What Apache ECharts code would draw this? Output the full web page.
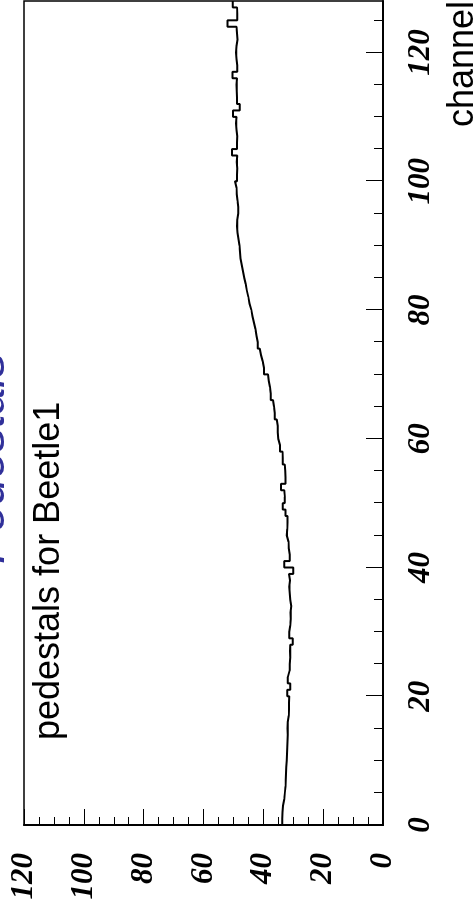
<!DOCTYPE html>
<html>
<head>
<meta charset="utf-8">
<title>Pedestals</title>
<script src="https://cdn.jsdelivr.net/npm/echarts@6/dist/echarts.min.js"></script>
<style>
  html, body { margin: 0; padding: 0; background: #fff; overflow: hidden; }
  body { width: 475px; height: 917px; position: relative; }
  /* landscape chart turned a quarter turn counter-clockwise onto the portrait page */
  #chart {
    position: absolute; left: 0; top: 917px;
    width: 917px; height: 475px;
    transform-origin: 0 0;
    transform: rotate(-90deg);
  }
</style>
</head>
<body>
<div id="chart"></div>
<script>
// pedestal per channel (lower bin edge = channel number)
const channels = Array.from({length: 128}, (_, i) => i);
const pedestals = [
  33.7, 33.6, 33.4, 33.0, 32.8, 32.6, 32.5, 32.4, 32.3, 32.2,
  32.1, 32.0, 31.9, 31.8, 31.9, 31.8, 31.5, 31.4, 31.4, 31.3,
  32.0, 31.0, 31.8, 31.2, 31.2, 31.0, 31.1, 31.0, 30.2, 31.3,
  31.0, 30.8, 30.9, 30.7, 31.0, 31.2, 31.3, 31.1, 31.4, 30.0,
  33.0, 31.2, 31.5, 31.6, 32.2, 32.0, 31.9, 31.9, 32.6, 33.5,
  32.8, 33.0, 34.1, 32.6, 32.7, 32.8, 33.5, 33.6, 34.4, 35.0,
  35.2, 35.2, 35.5, 36.2, 36.4, 36.8, 37.5, 37.8, 38.2, 38.4,
  39.8, 40.2, 40.8, 41.2, 41.9, 42.3, 42.6, 43.1, 43.6, 44.0,
  44.6, 45.0, 45.5, 45.9, 46.4, 46.8, 47.2, 47.6, 47.8, 48.0,
  48.3, 48.6, 48.8, 48.7, 48.4, 48.4, 48.6, 48.9, 49.0, 49.5,
  48.8, 48.7, 48.9, 48.7, 50.5, 48.8, 48.7, 49.0, 49.1, 49.0,
  50.1, 47.9, 48.8, 48.9, 49.0, 48.8, 50.3, 48.7, 49.0, 49.1,
  49.0, 48.6, 48.8, 49.0, 52.0, 48.7, 48.8, 50.2
];
const channelMajorTicks = [0, 20, 40, 60, 80, 100, 120];
const channelMinorTicks = [5, 10, 15, 25, 30, 35, 45, 50, 55, 65, 70, 75, 85, 90, 95, 105, 110, 115, 125];
const channelRange = [0, 128];
const pedestalRange = [0, 120];

const titleText = 'Pedestals';
const subText = 'pedestals for Beetle1';
const xName = 'channel';

// histogram outline: each bin drawn flat from its lower edge to the next
const histPoints = channels.map((c, i) => [c, pedestals[i]]);
histPoints.push([channelRange[1], pedestals[pedestals.length - 1]]);

const tickFont = {
  fontFamily: 'Liberation Serif',
  fontWeight: 'bold',
  fontStyle: 'italic',
  fontSize: 31,
  color: '#000'
};

const chart = echarts.init(document.getElementById('chart'), null, {renderer: 'canvas', width: 917, height: 475});
chart.setOption({
  animation: false,
  backgroundColor: '#fff',
  title: [
    {
      text: titleText, left: 'center', top: -33, padding: 0,
      textStyle: {fontFamily: 'Liberation Sans', fontWeight: 'normal', fontStyle: 'italic', fontSize: 48, color: '#30309a'}
    },
    {
      text: subText, left: 177, top: 31, padding: 0,
      textStyle: {fontFamily: 'Liberation Sans', fontWeight: 'normal', fontSize: 36, color: '#000'}
    }
  ],
  grid: {
    left: 92, right: 1, top: 24, bottom: 92,
    outerBoundsMode: 'none', containLabel: false,
    show: true, borderColor: '#000', borderWidth: 1.5, backgroundColor: 'transparent'
  },
  xAxis: [
    {
      type: 'value', min: channelRange[0], max: channelRange[1], position: 'bottom',
      name: xName, nameLocation: 'end', nameGap: 0, nameMoveOverlap: false,
      nameTextStyle: {fontFamily: 'Liberation Sans', fontSize: 36, color: '#000', align: 'right', verticalAlign: 'top', padding: [62, 0, 0, 0]},
      axisLine: {show: true, lineStyle: {color: '#000', width: 2}},
      axisTick: {show: true, inside: true, length: 17, customValues: channelMajorTicks, lineStyle: {color: '#000', width: 1}},
      axisLabel: Object.assign({show: true, margin: 22, customValues: channelMajorTicks}, tickFont),
      splitLine: {show: false}
    },
    {
      type: 'value', min: channelRange[0], max: channelRange[1], position: 'bottom',
      axisLine: {show: false},
      axisTick: {show: true, inside: true, length: 9, customValues: channelMinorTicks, lineStyle: {color: '#000', width: 1}},
      axisLabel: {show: false},
      splitLine: {show: false}
    }
  ],
  yAxis: {
    type: 'value', min: pedestalRange[0], max: pedestalRange[1], interval: 20,
    axisLine: {show: true, lineStyle: {color: '#000', width: 2}},
    axisTick: {show: true, inside: true, length: 16, lineStyle: {color: '#000', width: 1}},
    minorTick: {show: true, splitNumber: 4, length: 8, lineStyle: {color: '#000', width: 1}},
    axisLabel: Object.assign({show: true, margin: 28}, tickFont),
    splitLine: {show: false}
  },
  series: [{
    type: 'line',
    xAxisIndex: 0,
    step: 'end',
    data: histPoints,
    showSymbol: false,
    symbol: 'none',
    lineStyle: {color: '#000', width: 2},
    silent: true
  }]
});
</script>
</body>
</html>
